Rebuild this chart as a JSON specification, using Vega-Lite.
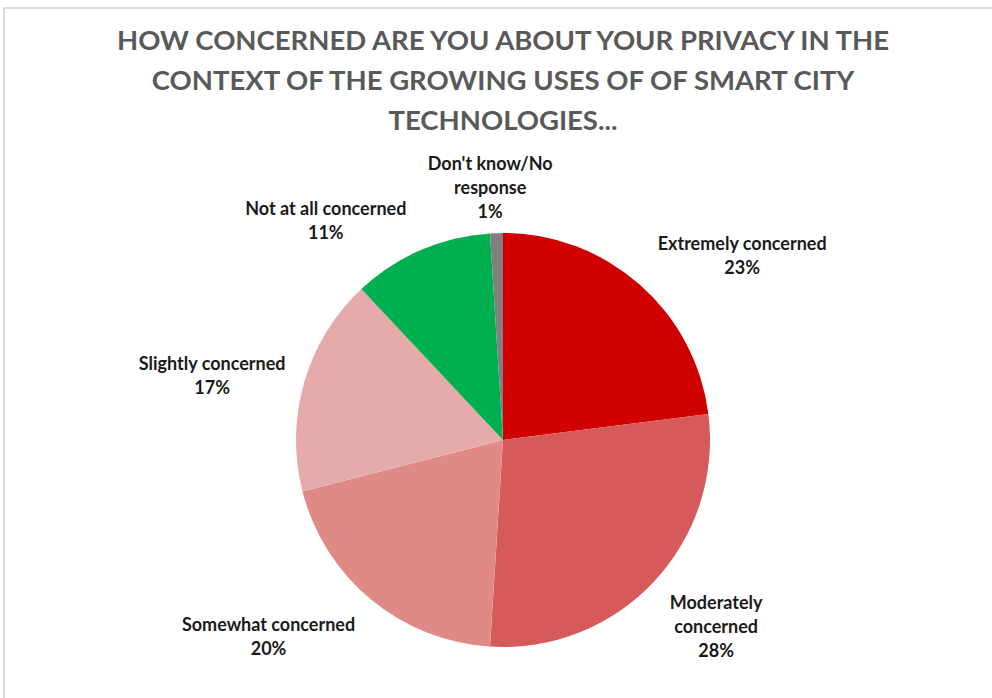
{
  "$schema": "https://vega.github.io/schema/vega-lite/v6.json",
  "autosize": {"type": "none"},
  "padding": {"top": 8, "left": 4, "right": 0, "bottom": 0},
  "width": 998,
  "height": 864,
  "background": "white",
  "view": {"stroke": "#d0d0d0", "strokeWidth": 1.5, "fill": "white"},
  "title": {
    "text": ["HOW CONCERNED ARE YOU ABOUT YOUR PRIVACY IN THE", "CONTEXT OF THE GROWING USES OF OF SMART CITY", "TECHNOLOGIES..."],
    "font": "Lato",
    "fontSize": 27.5,
    "fontWeight": "bold",
    "color": "#595959",
    "lineHeight": 40,
    "anchor": "middle",
    "offset": -127,
    "frame": "group"
  },
  "data": {
    "values": [
      {"category": "Extremely concerned", "value": 23, "label": "Extremely concerned|23%"},
      {"category": "Moderately concerned", "value": 28, "label": "Moderately|concerned|28%"},
      {"category": "Somewhat concerned", "value": 20, "label": "Somewhat concerned|20%"},
      {"category": "Slightly concerned", "value": 17, "label": "Slightly concerned|17%"},
      {"category": "Not at all concerned", "value": 11, "label": "Not at all concerned|11%"},
      {"category": "Don't know/No response", "value": 1, "label": "Don't know/No|response|1%"}
    ]
  },
  "transform": [{"window": [{"op": "row_number", "as": "order"}]}],
  "encoding": {
    "theta": {"field": "value", "type": "quantitative", "stack": true},
    "order": {"field": "order", "type": "quantitative"}
  },
  "layer": [
    {
      "mark": {"type": "arc", "outerRadius": 207},
      "encoding": {
        "color": {
          "field": "category",
          "type": "nominal",
          "sort": null,
          "legend": null,
          "scale": {
            "domain": ["Extremely concerned", "Moderately concerned", "Somewhat concerned", "Slightly concerned", "Not at all concerned", "Don't know/No response"],
            "range": ["#D00000", "#D65A5A", "#E08A88", "#E6AAAA", "#00B050", "#808080"]
          }
        }
      }
    },
    {
      "mark": {"type": "text", "radius": 280, "dx": 54, "dy": 15, "font": "Lato", "fontSize": 18, "fontWeight": "bold", "color": "#1a1a1a", "lineBreak": "|", "lineHeight": 24, "align": "center", "baseline": "middle"},
      "encoding": {"text": {"condition": {"test": "datum.category === 'Extremely concerned'", "field": "label"}, "value": ""}}
    },
    {
      "mark": {"type": "text", "radius": 280, "dx": 9, "dy": -28, "font": "Lato", "fontSize": 18, "fontWeight": "bold", "color": "#1a1a1a", "lineBreak": "|", "lineHeight": 24, "align": "center", "baseline": "middle"},
      "encoding": {"text": {"condition": {"test": "datum.category === 'Moderately concerned'", "field": "label"}, "value": ""}}
    },
    {
      "mark": {"type": "text", "radius": 280, "dx": -56, "dy": -30, "font": "Lato", "fontSize": 18, "fontWeight": "bold", "color": "#1a1a1a", "lineBreak": "|", "lineHeight": 24, "align": "center", "baseline": "middle"},
      "encoding": {"text": {"condition": {"test": "datum.category === 'Somewhat concerned'", "field": "label"}, "value": ""}}
    },
    {
      "mark": {"type": "text", "radius": 280, "dx": -22, "dy": 3, "font": "Lato", "fontSize": 18, "fontWeight": "bold", "color": "#1a1a1a", "lineBreak": "|", "lineHeight": 24, "align": "center", "baseline": "middle"},
      "encoding": {"text": {"condition": {"test": "datum.category === 'Slightly concerned'", "field": "label"}, "value": ""}}
    },
    {
      "mark": {"type": "text", "radius": 280, "dx": -66, "dy": 27, "font": "Lato", "fontSize": 18, "fontWeight": "bold", "color": "#1a1a1a", "lineBreak": "|", "lineHeight": 24, "align": "center", "baseline": "middle"},
      "encoding": {"text": {"condition": {"test": "datum.category === 'Not at all concerned'", "field": "label"}, "value": ""}}
    },
    {
      "mark": {"type": "text", "radius": 280, "dx": -4, "dy": 5, "font": "Lato", "fontSize": 18, "fontWeight": "bold", "color": "#1a1a1a", "lineBreak": "|", "lineHeight": 24, "align": "center", "baseline": "middle"},
      "encoding": {"text": {"condition": {"test": "datum.category === \"Don't know/No response\"", "field": "label"}, "value": ""}}
    }
  ]
}
